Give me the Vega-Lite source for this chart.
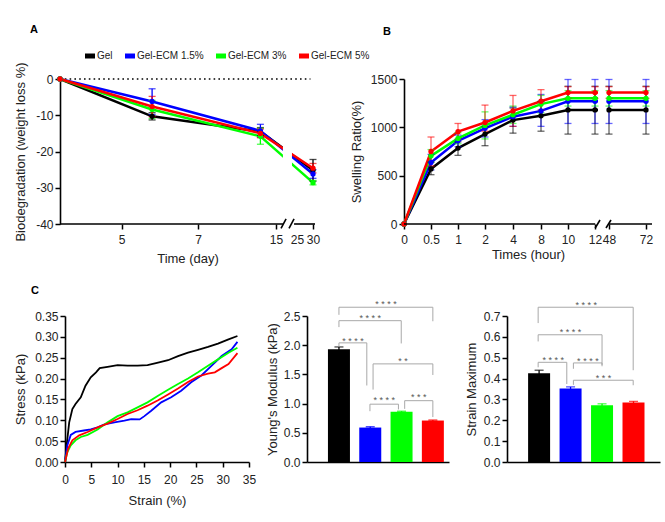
{
 "$schema": "https://vega.github.io/schema/vega-lite/v6.json",
 "padding": {"left": 14, "top": 24, "right": 2, "bottom": 2},
 "autosize": {"type": "pad"},
 "background": "white",
 "spacing": 20,
 "resolve": {"scale": {"x": "independent", "y": "independent", "color": "independent", "fill": "independent", "stroke": "independent"}, "legend": {"fill": "independent"}},
 "config": {
  "font": "Liberation Sans",
  "view": {"stroke": null},
  "axis": {"grid": false, "labelOverlap": false, "domainColor": "#000", "domainWidth": 1.6, "tickColor": "#000", "tickWidth": 1.5, "tickSize": 5, "labelFont": "Liberation Sans", "labelFontSize": 12, "labelColor": "#222", "labelPadding": 2, "titleFont": "Liberation Sans", "titleFontSize": 13, "titleFontWeight": "normal", "titleColor": "#222"},
  "range": {"category": ["#000000", "#0000ff", "#00ff00", "#ff0000"]},
  "title": {"font": "Liberation Sans", "fontSize": 11, "fontWeight": "bold", "anchor": "start", "frame": "group", "color": "#000"}
 },
 "datasets": {
  "A": [
   {"g": "Gel", "day": 3, "loss": 0, "lo": 0, "hi": 0},
   {"g": "Gel", "day": 5.8, "loss": -10.3, "lo": -11.3, "hi": -9.3},
   {"g": "Gel", "day": 13.4, "loss": -14.5, "lo": -15.6, "hi": -13.4},
   {"g": "Gel", "day": 30, "loss": -25.2, "lo": -28.2, "hi": -22.2},
   {"g": "Gel-ECM 1.5%", "day": 3, "loss": 0, "lo": 0, "hi": 0},
   {"g": "Gel-ECM 1.5%", "day": 5.8, "loss": -6.2, "lo": -9.8, "hi": -2.7},
   {"g": "Gel-ECM 1.5%", "day": 13.4, "loss": -14.3, "lo": -16.1, "hi": -12.5},
   {"g": "Gel-ECM 1.5%", "day": 30, "loss": -26.2, "lo": -27.4, "hi": -25},
   {"g": "Gel-ECM 3%", "day": 3, "loss": 0, "lo": 0, "hi": 0},
   {"g": "Gel-ECM 3%", "day": 5.8, "loss": -8.4, "lo": -10.9, "hi": -5.9},
   {"g": "Gel-ECM 3%", "day": 13.4, "loss": -15.8, "lo": -18, "hi": -13.6},
   {"g": "Gel-ECM 3%", "day": 30, "loss": -28.6, "lo": -29.2, "hi": -28},
   {"g": "Gel-ECM 5%", "day": 3, "loss": 0, "lo": 0, "hi": 0},
   {"g": "Gel-ECM 5%", "day": 5.8, "loss": -7.6, "lo": -10.4, "hi": -4.8},
   {"g": "Gel-ECM 5%", "day": 13.4, "loss": -15, "lo": -16.2, "hi": -13.8},
   {"g": "Gel-ECM 5%", "day": 30, "loss": -24.6, "lo": -25.9, "hi": -23.3}
  ],
  "B": [
   {"g": "Gel", "t": 0, "s": 0, "lo": 0, "hi": 0},
   {"g": "Gel", "t": 0.5, "s": 570, "lo": 510, "hi": 640},
   {"g": "Gel", "t": 1, "s": 785, "lo": 710, "hi": 850},
   {"g": "Gel", "t": 2, "s": 930, "lo": 810, "hi": 1010},
   {"g": "Gel", "t": 4, "s": 1075, "lo": 940, "hi": 1200},
   {"g": "Gel", "t": 8, "s": 1120, "lo": 960, "hi": 1270},
   {"g": "Gel", "t": 10, "s": 1180, "lo": 930, "hi": 1425},
   {"g": "Gel", "t": 12, "s": 1180, "lo": 930, "hi": 1425},
   {"g": "Gel", "t": 48, "s": 1180, "lo": 930, "hi": 1425},
   {"g": "Gel", "t": 72, "s": 1180, "lo": 930, "hi": 1425},
   {"g": "Gel-ECM 1.5%", "t": 0, "s": 0, "lo": 0, "hi": 0},
   {"g": "Gel-ECM 1.5%", "t": 0.5, "s": 635, "lo": 560, "hi": 720},
   {"g": "Gel-ECM 1.5%", "t": 1, "s": 860, "lo": 800, "hi": 920},
   {"g": "Gel-ECM 1.5%", "t": 2, "s": 990, "lo": 900, "hi": 1080},
   {"g": "Gel-ECM 1.5%", "t": 4, "s": 1110, "lo": 1010, "hi": 1210},
   {"g": "Gel-ECM 1.5%", "t": 8, "s": 1170, "lo": 1010, "hi": 1340},
   {"g": "Gel-ECM 1.5%", "t": 10, "s": 1270, "lo": 1040, "hi": 1495},
   {"g": "Gel-ECM 1.5%", "t": 12, "s": 1270, "lo": 1040, "hi": 1495},
   {"g": "Gel-ECM 1.5%", "t": 48, "s": 1270, "lo": 1040, "hi": 1495},
   {"g": "Gel-ECM 1.5%", "t": 72, "s": 1270, "lo": 1040, "hi": 1495},
   {"g": "Gel-ECM 3%", "t": 0, "s": 0, "lo": 0, "hi": 0},
   {"g": "Gel-ECM 3%", "t": 0.5, "s": 705, "lo": 640, "hi": 770},
   {"g": "Gel-ECM 3%", "t": 1, "s": 885, "lo": 830, "hi": 945},
   {"g": "Gel-ECM 3%", "t": 2, "s": 1020, "lo": 880, "hi": 1160},
   {"g": "Gel-ECM 3%", "t": 4, "s": 1130, "lo": 1040, "hi": 1220},
   {"g": "Gel-ECM 3%", "t": 8, "s": 1240, "lo": 1150, "hi": 1330},
   {"g": "Gel-ECM 3%", "t": 10, "s": 1300, "lo": 1220, "hi": 1380},
   {"g": "Gel-ECM 3%", "t": 12, "s": 1300, "lo": 1220, "hi": 1380},
   {"g": "Gel-ECM 3%", "t": 48, "s": 1300, "lo": 1220, "hi": 1380},
   {"g": "Gel-ECM 3%", "t": 72, "s": 1300, "lo": 1220, "hi": 1380},
   {"g": "Gel-ECM 5%", "t": 0, "s": 0, "lo": 0, "hi": 0},
   {"g": "Gel-ECM 5%", "t": 0.5, "s": 750, "lo": 600, "hi": 900},
   {"g": "Gel-ECM 5%", "t": 1, "s": 955, "lo": 880, "hi": 1040},
   {"g": "Gel-ECM 5%", "t": 2, "s": 1050, "lo": 960, "hi": 1230},
   {"g": "Gel-ECM 5%", "t": 4, "s": 1170, "lo": 1010, "hi": 1330},
   {"g": "Gel-ECM 5%", "t": 8, "s": 1270, "lo": 1180, "hi": 1390},
   {"g": "Gel-ECM 5%", "t": 10, "s": 1360, "lo": 1300, "hi": 1420},
   {"g": "Gel-ECM 5%", "t": 12, "s": 1360, "lo": 1300, "hi": 1420},
   {"g": "Gel-ECM 5%", "t": 48, "s": 1360, "lo": 1300, "hi": 1420},
   {"g": "Gel-ECM 5%", "t": 72, "s": 1360, "lo": 1300, "hi": 1420}
  ],
  "C1": [
   {"g": "Gel", "strain": 0, "stress": 0}, {"g": "Gel", "strain": 0.4, "stress": 0.05}, {"g": "Gel", "strain": 0.8, "stress": 0.095}, {"g": "Gel", "strain": 1.4, "stress": 0.127}, {"g": "Gel", "strain": 2.0, "stress": 0.139}, {"g": "Gel", "strain": 3.0, "stress": 0.155}, {"g": "Gel", "strain": 3.9, "stress": 0.183}, {"g": "Gel", "strain": 4.9, "stress": 0.203}, {"g": "Gel", "strain": 5.9, "stress": 0.215}, {"g": "Gel", "strain": 6.6, "stress": 0.225}, {"g": "Gel", "strain": 8.1, "stress": 0.228}, {"g": "Gel", "strain": 10, "stress": 0.232}, {"g": "Gel", "strain": 11.9, "stress": 0.231}, {"g": "Gel", "strain": 13.8, "stress": 0.231}, {"g": "Gel", "strain": 15.7, "stress": 0.232}, {"g": "Gel", "strain": 17.7, "stress": 0.238}, {"g": "Gel", "strain": 19.6, "stress": 0.244}, {"g": "Gel", "strain": 21.5, "stress": 0.254}, {"g": "Gel", "strain": 23.4, "stress": 0.262}, {"g": "Gel", "strain": 25.3, "stress": 0.269}, {"g": "Gel", "strain": 27.2, "stress": 0.276}, {"g": "Gel", "strain": 29.1, "stress": 0.284}, {"g": "Gel", "strain": 31.1, "stress": 0.294}, {"g": "Gel", "strain": 32.8, "stress": 0.302},
   {"g": "Gel-ECM 1.5%", "strain": 0, "stress": 0}, {"g": "Gel-ECM 1.5%", "strain": 0.45, "stress": 0.04}, {"g": "Gel-ECM 1.5%", "strain": 1.1, "stress": 0.065}, {"g": "Gel-ECM 1.5%", "strain": 2.0, "stress": 0.072}, {"g": "Gel-ECM 1.5%", "strain": 3.6, "stress": 0.0755}, {"g": "Gel-ECM 1.5%", "strain": 4.9, "stress": 0.078}, {"g": "Gel-ECM 1.5%", "strain": 6.2, "stress": 0.083}, {"g": "Gel-ECM 1.5%", "strain": 7.5, "stress": 0.09}, {"g": "Gel-ECM 1.5%", "strain": 9.4, "stress": 0.095}, {"g": "Gel-ECM 1.5%", "strain": 11.3, "stress": 0.099}, {"g": "Gel-ECM 1.5%", "strain": 12.6, "stress": 0.103}, {"g": "Gel-ECM 1.5%", "strain": 14.2, "stress": 0.102}, {"g": "Gel-ECM 1.5%", "strain": 15.1, "stress": 0.11}, {"g": "Gel-ECM 1.5%", "strain": 16.4, "stress": 0.123}, {"g": "Gel-ECM 1.5%", "strain": 18.3, "stress": 0.143}, {"g": "Gel-ECM 1.5%", "strain": 20.2, "stress": 0.155}, {"g": "Gel-ECM 1.5%", "strain": 22.1, "stress": 0.171}, {"g": "Gel-ECM 1.5%", "strain": 24, "stress": 0.191}, {"g": "Gel-ECM 1.5%", "strain": 26, "stress": 0.208}, {"g": "Gel-ECM 1.5%", "strain": 27.9, "stress": 0.231}, {"g": "Gel-ECM 1.5%", "strain": 29.8, "stress": 0.254}, {"g": "Gel-ECM 1.5%", "strain": 31.7, "stress": 0.27}, {"g": "Gel-ECM 1.5%", "strain": 32.8, "stress": 0.288},
   {"g": "Gel-ECM 3%", "strain": 0, "stress": 0}, {"g": "Gel-ECM 3%", "strain": 0.45, "stress": 0.024}, {"g": "Gel-ECM 3%", "strain": 1.1, "stress": 0.04}, {"g": "Gel-ECM 3%", "strain": 2.0, "stress": 0.052}, {"g": "Gel-ECM 3%", "strain": 3.0, "stress": 0.06}, {"g": "Gel-ECM 3%", "strain": 4.3, "stress": 0.065}, {"g": "Gel-ECM 3%", "strain": 6.2, "stress": 0.078}, {"g": "Gel-ECM 3%", "strain": 8.1, "stress": 0.095}, {"g": "Gel-ECM 3%", "strain": 10, "stress": 0.11}, {"g": "Gel-ECM 3%", "strain": 11.9, "stress": 0.119}, {"g": "Gel-ECM 3%", "strain": 13.8, "stress": 0.131}, {"g": "Gel-ECM 3%", "strain": 15.7, "stress": 0.143}, {"g": "Gel-ECM 3%", "strain": 17.7, "stress": 0.159}, {"g": "Gel-ECM 3%", "strain": 19.6, "stress": 0.173}, {"g": "Gel-ECM 3%", "strain": 21.5, "stress": 0.187}, {"g": "Gel-ECM 3%", "strain": 23.4, "stress": 0.2}, {"g": "Gel-ECM 3%", "strain": 25.3, "stress": 0.215}, {"g": "Gel-ECM 3%", "strain": 27.2, "stress": 0.231}, {"g": "Gel-ECM 3%", "strain": 29.1, "stress": 0.246}, {"g": "Gel-ECM 3%", "strain": 31.1, "stress": 0.262}, {"g": "Gel-ECM 3%", "strain": 32.8, "stress": 0.274},
   {"g": "Gel-ECM 5%", "strain": 0, "stress": 0}, {"g": "Gel-ECM 5%", "strain": 0.6, "stress": 0.032}, {"g": "Gel-ECM 5%", "strain": 1.4, "stress": 0.052}, {"g": "Gel-ECM 5%", "strain": 2.7, "stress": 0.064}, {"g": "Gel-ECM 5%", "strain": 4.3, "stress": 0.072}, {"g": "Gel-ECM 5%", "strain": 6.2, "stress": 0.083}, {"g": "Gel-ECM 5%", "strain": 8.1, "stress": 0.092}, {"g": "Gel-ECM 5%", "strain": 10, "stress": 0.103}, {"g": "Gel-ECM 5%", "strain": 11.9, "stress": 0.115}, {"g": "Gel-ECM 5%", "strain": 13.8, "stress": 0.124}, {"g": "Gel-ECM 5%", "strain": 15.7, "stress": 0.135}, {"g": "Gel-ECM 5%", "strain": 17.7, "stress": 0.148}, {"g": "Gel-ECM 5%", "strain": 19.6, "stress": 0.162}, {"g": "Gel-ECM 5%", "strain": 21.5, "stress": 0.176}, {"g": "Gel-ECM 5%", "strain": 23.4, "stress": 0.192}, {"g": "Gel-ECM 5%", "strain": 25.3, "stress": 0.205}, {"g": "Gel-ECM 5%", "strain": 27.2, "stress": 0.212}, {"g": "Gel-ECM 5%", "strain": 28.5, "stress": 0.215}, {"g": "Gel-ECM 5%", "strain": 29.8, "stress": 0.225}, {"g": "Gel-ECM 5%", "strain": 31.1, "stress": 0.235}, {"g": "Gel-ECM 5%", "strain": 32.8, "stress": 0.261}
  ],
  "C2": [
   {"g": "Gel", "pos": 1, "val": 1.93, "lo": 1.89, "hi": 1.97},
   {"g": "Gel-ECM 1.5%", "pos": 2, "val": 0.59, "lo": 0.575, "hi": 0.605},
   {"g": "Gel-ECM 3%", "pos": 3, "val": 0.86, "lo": 0.85, "hi": 0.87},
   {"g": "Gel-ECM 5%", "pos": 4, "val": 0.71, "lo": 0.7, "hi": 0.72}
  ],
  "C2b": [
   {"x1": 1.0, "x2": 4.0, "yh": 2.65, "yl1": 2.52, "yl2": 2.41, "xm": 2.5, "ys": 2.74, "lab": "* * * *"},
   {"x1": 1.0, "x2": 2.99, "yh": 2.42, "yl1": 2.31, "yl2": 2.03, "xm": 2.0, "ys": 2.5, "lab": "* * * *"},
   {"x1": 1.0, "x2": 1.89, "yh": 2.04, "yl1": 1.98, "yl2": 1.31, "xm": 1.45, "ys": 2.11, "lab": "* * * *"},
   {"x1": 2.09, "x2": 4.0, "yh": 1.68, "yl1": 1.24, "yl2": 1.49, "xm": 3.05, "ys": 1.77, "lab": "* *"},
   {"x1": 1.99, "x2": 2.9, "yh": 0.99, "yl1": 0.87, "yl2": 0.9, "xm": 2.45, "ys": 1.1, "lab": "* * * *"},
   {"x1": 3.1, "x2": 4.0, "yh": 1.05, "yl1": 0.91, "yl2": 0.77, "xm": 3.55, "ys": 1.15, "lab": "* * *"}
  ],
  "C3": [
   {"g": "Gel", "pos": 1, "val": 0.425, "lo": 0.41, "hi": 0.44},
   {"g": "Gel-ECM 1.5%", "pos": 2, "val": 0.352, "lo": 0.344, "hi": 0.36},
   {"g": "Gel-ECM 3%", "pos": 3, "val": 0.272, "lo": 0.265, "hi": 0.279},
   {"g": "Gel-ECM 5%", "pos": 4, "val": 0.285, "lo": 0.279, "hi": 0.291}
  ],
  "C3b": [
   {"x1": 0.97, "x2": 3.99, "yh": 0.742, "yl1": 0.666, "yl2": 0.44, "xm": 2.5, "ys": 0.762, "lab": "* * * *"},
   {"x1": 0.97, "x2": 3.0, "yh": 0.61, "yl1": 0.578, "yl2": 0.465, "xm": 2.0, "ys": 0.631, "lab": "* * * *"},
   {"x1": 0.97, "x2": 1.88, "yh": 0.478, "yl1": 0.454, "yl2": 0.374, "xm": 1.45, "ys": 0.499, "lab": "* * * *"},
   {"x1": 2.09, "x2": 3.0, "yh": 0.475, "yl1": 0.447, "yl2": 0.459, "xm": 2.55, "ys": 0.494, "lab": "* * * *"},
   {"x1": 2.09, "x2": 3.99, "yh": 0.392, "yl1": 0.37, "yl2": 0.368, "xm": 3.05, "ys": 0.414, "lab": "* * *"}
  ]
 },
 "vconcat": [
  {
   "hconcat": [
    {
     "width": 250, "height": 145,
     "title": {"text": "A", "dx": -35, "offset": 16},
     "layer": [
      {
       "data": {"values": [{"day": 3, "day2": 29.2, "loss": 0}]},
       "mark": {"type": "rule", "strokeDash": [1.6, 3.2], "strokeWidth": 1.6, "color": "#000"},
       "encoding": {
        "x": {"field": "day", "type": "quantitative", "title": "Time (day)", "scale": {"type": "linear", "domain": [3, 5, 7, 15, 25, 30, 30.3], "range": [-5, 56.5, 133, 211, 232, 248, 250], "zero": false, "nice": false}, "axis": {"values": [5, 7, 15, 25, 30], "tickCount": 20, "domain": false, "labelOverlap": false, "labelBound": false, "labelFlush": false, "labelPadding": 5, "titlePadding": 7, "tickColor": {"condition": {"test": "datum.value === 25", "value": "transparent"}, "value": "#000"}}},
        "x2": {"field": "day2"},
        "y": {"field": "loss", "type": "quantitative", "title": "Biodegradation (weight loss %)", "scale": {"domain": [-40, 0], "zero": false, "nice": false}, "axis": {"values": [0, -10, -20, -30, -40], "tickCount": 20, "offset": 5, "labelOverlap": false, "labelExpr": "datum.value + ''", "titlePadding": 8}}
       }
      },
      {
       "data": {"name": "A"},
       "mark": {"type": "line", "strokeWidth": 2.5},
       "encoding": {
        "x": {"field": "day", "type": "quantitative", "title": "Time (day)"},
        "y": {"field": "loss", "type": "quantitative", "title": "Biodegradation (weight loss %)"},
        "stroke": {"field": "g", "type": "nominal", "legend": null}
       }
      },
      {
       "data": {"values": [{"day": 18.3, "day2": 22.6, "loss": -12, "loss2": -32}]},
       "mark": {"type": "rect", "color": "white"},
       "encoding": {
        "x": {"field": "day", "type": "quantitative", "title": "Time (day)"},
        "x2": {"field": "day2"},
        "y": {"field": "loss", "type": "quantitative", "title": "Biodegradation (weight loss %)"},
        "y2": {"field": "loss2"}
       }
      },
      {
       "data": {"name": "A"},
       "transform": [{"filter": "datum.day > 3"}],
       "mark": {"type": "errorbar", "ticks": {"size": 7}, "thickness": 1.3},
       "encoding": {
        "x": {"field": "day", "type": "quantitative", "title": "Time (day)"},
        "y": {"field": "lo", "type": "quantitative", "title": "Biodegradation (weight loss %)"},
        "y2": {"field": "hi"},
        "color": {"field": "g", "type": "nominal", "legend": null}
       }
      },
      {
       "data": {"name": "A"},
       "mark": {"type": "point", "filled": true, "size": 28, "opacity": 1, "shape": "circle"},
       "encoding": {
        "x": {"field": "day", "type": "quantitative", "title": "Time (day)"},
        "y": {"field": "loss", "type": "quantitative", "title": "Biodegradation (weight loss %)"},
        "fill": {"field": "g", "type": "nominal", "legend": {"orient": "none", "legendX": 20, "legendY": -28, "direction": "horizontal", "title": null, "symbolType": "M-1,-0.5H1V0.5H-1Z", "symbolSize": 100, "symbolStrokeWidth": 0, "symbolOpacity": 1, "labelFont": "Liberation Sans", "labelFontSize": 10, "labelColor": "#222", "labelOffset": 2, "columnPadding": 12, "padding": 0}}
       }
      },
      {
       "data": {"values": [{"day": 3, "day2": 18.3, "loss": -40}, {"day": 23.6, "day2": 30.3, "loss": -40}]},
       "mark": {"type": "rule", "strokeWidth": 1.6, "color": "#000"},
       "encoding": {
        "x": {"field": "day", "type": "quantitative", "title": "Time (day)"},
        "x2": {"field": "day2"},
        "y": {"field": "loss", "type": "quantitative", "title": "Biodegradation (weight loss %)"}
       }
      },
      {
       "data": {"values": [{"day": 17.4, "day2": 19.8, "loss": -41.2, "loss2": -38.6}, {"day": 21.2, "day2": 23.6, "loss": -41.2, "loss2": -38.6}]},
       "mark": {"type": "rule", "strokeWidth": 1.6, "color": "#000"},
       "encoding": {
        "x": {"field": "day", "type": "quantitative", "title": "Time (day)"},
        "x2": {"field": "day2"},
        "y": {"field": "loss", "type": "quantitative", "title": "Biodegradation (weight loss %)"},
        "y2": {"field": "loss2"}
       }
      }
     ]
    },
    {
     "width": 248, "height": 145,
     "title": {"text": "B", "dx": -21, "offset": 36},
     "layer": [
      {
       "data": {"name": "B"},
       "mark": {"type": "line", "strokeWidth": 2.5},
       "encoding": {
        "x": {"field": "t", "type": "quantitative", "title": "Times (hour)", "scale": {"type": "linear", "domain": [0, 0.5, 1, 2, 4, 8, 10, 12, 48, 72, 73.6], "range": [0, 27, 54, 81, 109, 137, 164, 191, 205, 242, 248], "zero": false, "nice": false}, "axis": {"values": [0, 0.5, 1, 2, 4, 8, 10, 12, 48, 72], "tickCount": 20, "domain": false, "labelExpr": "datum.value + ''", "labelOverlap": false, "labelBound": false, "labelFlush": false, "labelPadding": 5, "titlePadding": 3}},
        "y": {"field": "s", "type": "quantitative", "title": "Swelling Ratio(%)", "scale": {"domain": [0, 1500], "nice": false}, "axis": {"values": [0, 500, 1000, 1500], "tickCount": 20, "labelExpr": "datum.value + ''", "titlePadding": 7}},
        "color": {"field": "g", "type": "nominal", "legend": null}
       }
      },
      {
       "data": {"values": [{"t": 19.7, "t2": 42.9, "s": 1090, "s2": 1430}]},
       "mark": {"type": "rect", "color": "white"},
       "encoding": {
        "x": {"field": "t", "type": "quantitative", "title": "Times (hour)"},
        "x2": {"field": "t2"},
        "y": {"field": "s", "type": "quantitative", "title": "Swelling Ratio(%)"},
        "y2": {"field": "s2"}
       }
      },
      {
       "data": {"name": "B"},
       "transform": [{"filter": "datum.t > 0"}],
       "mark": {"type": "errorbar", "ticks": {"size": 7, "opacity": 0.6}, "rule": {"opacity": 0.6}, "thickness": 1.3},
       "encoding": {
        "x": {"field": "t", "type": "quantitative", "title": "Times (hour)"},
        "y": {"field": "lo", "type": "quantitative", "title": "Swelling Ratio(%)"},
        "y2": {"field": "hi"},
        "color": {"field": "g", "type": "nominal", "legend": null}
       }
      },
      {
       "data": {"name": "B"},
       "mark": {"type": "point", "filled": true, "size": 28, "opacity": 1, "shape": "circle"},
       "encoding": {
        "x": {"field": "t", "type": "quantitative", "title": "Times (hour)"},
        "y": {"field": "s", "type": "quantitative", "title": "Swelling Ratio(%)"},
        "color": {"field": "g", "type": "nominal", "legend": null}
       }
      },
      {
       "data": {"values": [{"t": 0, "t2": 12.5, "s": 0}, {"t": 48, "t2": 73.6, "s": 0}]},
       "mark": {"type": "rule", "strokeWidth": 1.6, "color": "#000"},
       "encoding": {
        "x": {"field": "t", "type": "quantitative", "title": "Times (hour)"},
        "x2": {"field": "t2"},
        "y": {"field": "s", "type": "quantitative", "title": "Swelling Ratio(%)"}
       }
      },
      {
       "data": {"values": [{"t": 12.5, "t2": 24.9, "s": -41, "s2": 41}, {"t": 40.3, "t2": 49.3, "s": -41, "s2": 41}]},
       "mark": {"type": "rule", "strokeWidth": 1.6, "color": "#000"},
       "encoding": {
        "x": {"field": "t", "type": "quantitative", "title": "Times (hour)"},
        "x2": {"field": "t2"},
        "y": {"field": "s", "type": "quantitative", "title": "Swelling Ratio(%)"},
        "y2": {"field": "s2"}
       }
      }
     ]
    }
   ],
   "spacing": 89,
   "bounds": "flush",
   "resolve": {"scale": {"x": "independent", "y": "independent", "color": "independent", "fill": "independent", "stroke": "independent"}, "legend": {"fill": "independent"}}
  },
  {
   "hconcat": [
    {
     "width": 184, "height": 146,
     "title": {"text": "C", "dx": -34, "offset": 14},
     "data": {"name": "C1"},
     "mark": {"type": "line", "strokeWidth": 1.8},
     "encoding": {
      "x": {"field": "strain", "type": "quantitative", "title": "Strain (%)", "scale": {"domain": [0, 35], "nice": false}, "axis": {"values": [0, 5, 10, 15, 20, 25, 30, 35], "tickCount": 20, "labelPadding": 7, "titlePadding": 9, "labelFlush": false}},
      "y": {"field": "stress", "type": "quantitative", "title": "Stress (kPa)", "scale": {"domain": [0, 0.35], "nice": false}, "axis": {"values": [0, 0.05, 0.1, 0.15, 0.2, 0.25, 0.3, 0.35], "tickCount": 20, "format": ".2f", "titlePadding": 7}},
      "color": {"field": "g", "type": "nominal", "legend": null}
     }
    },
    {
     "width": 142, "height": 146,
     "layer": [
      {
       "data": {"name": "C2"},
       "mark": {"type": "errorbar", "ticks": {"size": 9}, "thickness": 1.3},
       "encoding": {
        "x": {"field": "pos", "type": "quantitative", "title": null, "scale": {"domain": [0.139, 4.356], "nice": false, "zero": false}, "axis": {"ticks": false, "labels": false, "title": null}},
        "y": {"field": "lo", "type": "quantitative", "title": "Young's Modulus (kPa)", "scale": {"domain": [0, 2.5], "nice": false}, "axis": {"values": [0, 0.5, 1, 1.5, 2, 2.5], "tickCount": 20, "format": ".1f", "labelOverlap": false, "titlePadding": 4}},
        "y2": {"field": "hi"},
        "color": {"field": "g", "type": "nominal", "legend": null}
       }
      },
      {
       "data": {"name": "C2"},
       "mark": {"type": "bar", "width": 22, "orient": "vertical"},
       "encoding": {
        "x": {"field": "pos", "type": "quantitative", "title": null},
        "y": {"field": "val", "type": "quantitative", "title": "Young's Modulus (kPa)"},
        "color": {"field": "g", "type": "nominal", "legend": null}
       }
      },
      {
       "data": {"name": "C2b"},
       "mark": {"type": "rule", "color": "#a8a8a8", "strokeWidth": 1},
       "encoding": {
        "x": {"field": "x1", "type": "quantitative", "title": null},
        "x2": {"field": "x2"},
        "y": {"field": "yh", "type": "quantitative", "title": "Young's Modulus (kPa)"}
       }
      },
      {
       "data": {"name": "C2b"},
       "mark": {"type": "rule", "color": "#a8a8a8", "strokeWidth": 1},
       "encoding": {
        "x": {"field": "x1", "type": "quantitative", "title": null},
        "y": {"field": "yh", "type": "quantitative", "title": "Young's Modulus (kPa)"},
        "y2": {"field": "yl1"}
       }
      },
      {
       "data": {"name": "C2b"},
       "mark": {"type": "rule", "color": "#a8a8a8", "strokeWidth": 1},
       "encoding": {
        "x": {"field": "x2", "type": "quantitative", "title": null},
        "y": {"field": "yh", "type": "quantitative", "title": "Young's Modulus (kPa)"},
        "y2": {"field": "yl2"}
       }
      },
      {
       "data": {"name": "C2b"},
       "mark": {"type": "text", "fontSize": 9, "color": "#555", "baseline": "middle", "dy": 2},
       "encoding": {
        "x": {"field": "xm", "type": "quantitative", "title": null},
        "y": {"field": "ys", "type": "quantitative", "title": "Young's Modulus (kPa)"},
        "text": {"field": "lab"}
       }
      }
     ]
    },
    {
     "width": 153, "height": 146,
     "layer": [
      {
       "data": {"name": "C3"},
       "mark": {"type": "errorbar", "ticks": {"size": 9}, "thickness": 1.3},
       "encoding": {
        "x": {"field": "pos", "type": "quantitative", "title": null, "scale": {"domain": [0.139, 4.683], "nice": false, "zero": false}, "axis": {"ticks": false, "labels": false, "title": null}},
        "y": {"field": "lo", "type": "quantitative", "title": "Strain Maximum", "scale": {"domain": [0, 0.7], "nice": false}, "axis": {"values": [0, 0.1, 0.2, 0.3, 0.4, 0.5, 0.6, 0.7], "tickCount": 20, "format": ".1f", "labelOverlap": false, "titlePadding": 5}},
        "y2": {"field": "hi"},
        "color": {"field": "g", "type": "nominal", "legend": null}
       }
      },
      {
       "data": {"name": "C3"},
       "mark": {"type": "bar", "width": 22, "orient": "vertical"},
       "encoding": {
        "x": {"field": "pos", "type": "quantitative", "title": null},
        "y": {"field": "val", "type": "quantitative", "title": "Strain Maximum"},
        "color": {"field": "g", "type": "nominal", "legend": null}
       }
      },
      {
       "data": {"name": "C3b"},
       "mark": {"type": "rule", "color": "#a8a8a8", "strokeWidth": 1},
       "encoding": {
        "x": {"field": "x1", "type": "quantitative", "title": null},
        "x2": {"field": "x2"},
        "y": {"field": "yh", "type": "quantitative", "title": "Strain Maximum"}
       }
      },
      {
       "data": {"name": "C3b"},
       "mark": {"type": "rule", "color": "#a8a8a8", "strokeWidth": 1},
       "encoding": {
        "x": {"field": "x1", "type": "quantitative", "title": null},
        "y": {"field": "yh", "type": "quantitative", "title": "Strain Maximum"},
        "y2": {"field": "yl1"}
       }
      },
      {
       "data": {"name": "C3b"},
       "mark": {"type": "rule", "color": "#a8a8a8", "strokeWidth": 1},
       "encoding": {
        "x": {"field": "x2", "type": "quantitative", "title": null},
        "y": {"field": "yh", "type": "quantitative", "title": "Strain Maximum"},
        "y2": {"field": "yl2"}
       }
      },
      {
       "data": {"name": "C3b"},
       "mark": {"type": "text", "fontSize": 9, "color": "#555", "baseline": "middle", "dy": 2},
       "encoding": {
        "x": {"field": "xm", "type": "quantitative", "title": null},
        "y": {"field": "ys", "type": "quantitative", "title": "Strain Maximum"},
        "text": {"field": "lab"}
       }
      }
     ]
    }
   ],
   "spacing": 58,
   "bounds": "flush",
   "resolve": {"scale": {"x": "independent", "y": "independent", "color": "independent"}}
  }
 ]
}
